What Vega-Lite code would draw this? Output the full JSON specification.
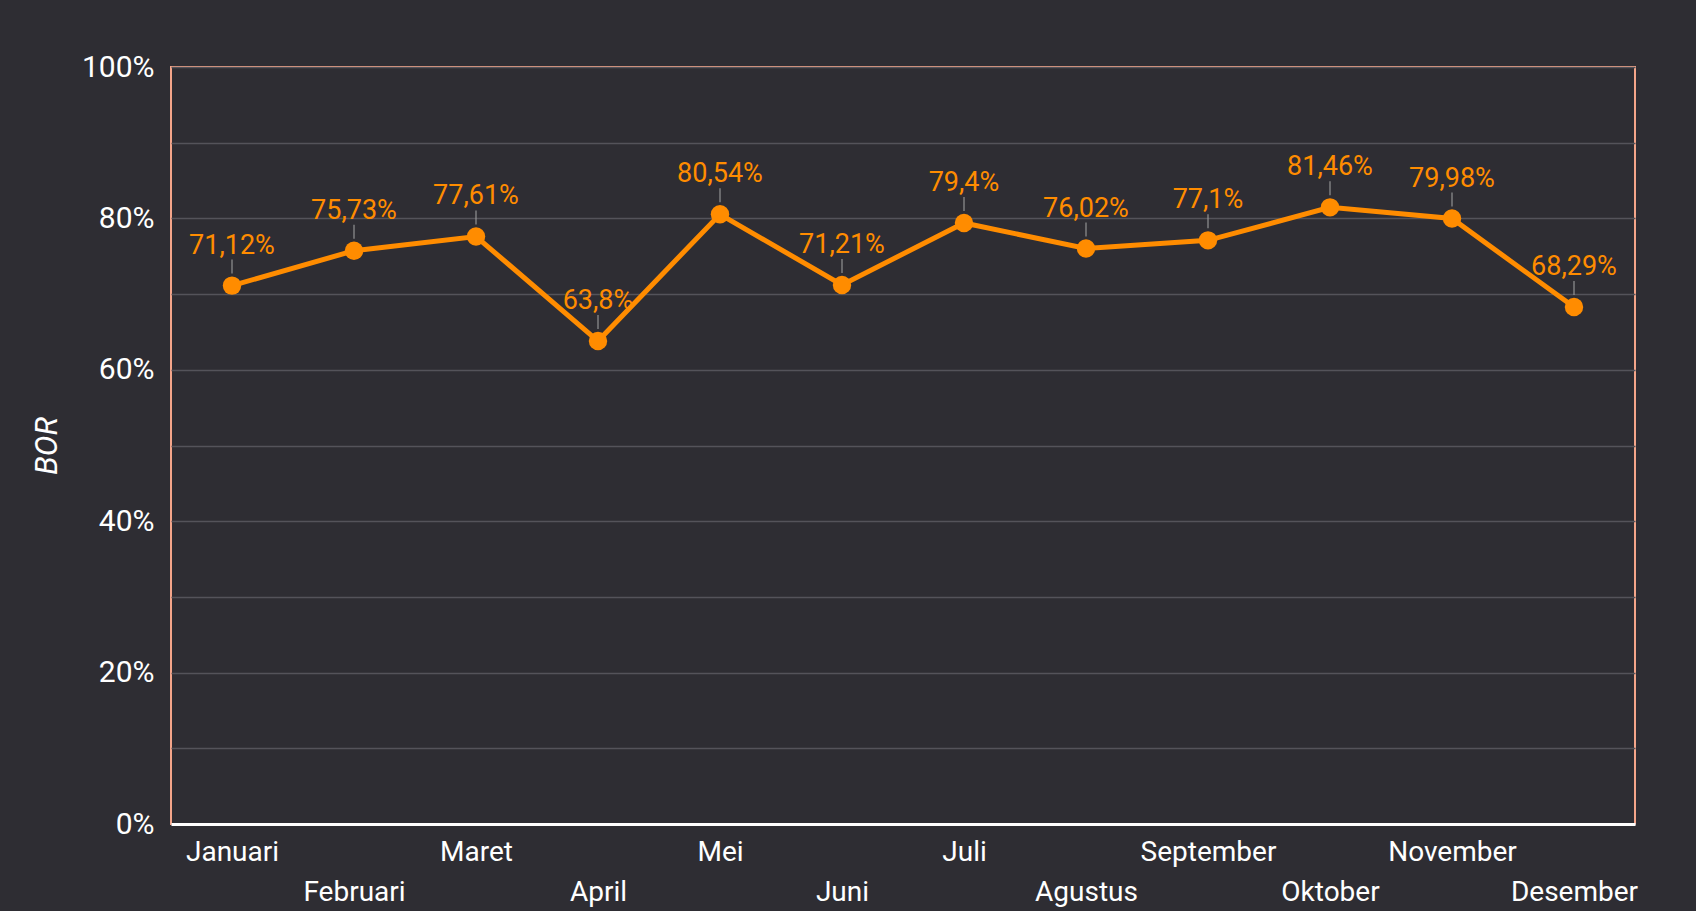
{
  "$schema": "https://vega.github.io/schema/vega-lite/v6.json",
  "width": 1464,
  "height": 757,
  "autosize": {"type": "none"},
  "padding": {"left": 171, "top": 67, "right": 61, "bottom": 87},
  "background": "#2e2d33",
  "config": {
    "view": {"stroke": "#f4a58a", "strokeWidth": 2},
    "font": "Roboto"
  },
  "data": {
    "values": [
      {"bulan": "Januari", "bor": 71.12},
      {"bulan": "Februari", "bor": 75.73},
      {"bulan": "Maret", "bor": 77.61},
      {"bulan": "April", "bor": 63.8},
      {"bulan": "Mei", "bor": 80.54},
      {"bulan": "Juni", "bor": 71.21},
      {"bulan": "Juli", "bor": 79.4},
      {"bulan": "Agustus", "bor": 76.02},
      {"bulan": "September", "bor": 77.1},
      {"bulan": "Oktober", "bor": 81.46},
      {"bulan": "November", "bor": 79.98},
      {"bulan": "Desember", "bor": 68.29}
    ]
  },
  "transform": [
    {"calculate": "replace(format(datum.bor, '.2~f'), '.', ',') + '%'", "as": "label"}
  ],
  "encoding": {
    "x": {
      "field": "bulan",
      "type": "ordinal",
      "sort": null,
      "scale": {"type": "point", "padding": 0.5},
      "axis": {
        "title": null,
        "labelAngle": 0,
        "labelFont": "Roboto",
        "labelFontSize": 28,
        "labelColor": "#ffffff",
        "labelPadding": 14,
        "labelLineHeight": 40,
        "labelBaseline": "top",
        "labelExpr": "indexof(['Februari','April','Juni','Agustus','Oktober','Desember'], datum.value) >= 0 ? ['', datum.label] : datum.label",
        "ticks": false,
        "grid": false,
        "domainColor": "#ffffff",
        "domainWidth": 3,
        "labelOverlap": false
      }
    },
    "y": {
      "field": "bor",
      "type": "quantitative",
      "scale": {"domain": [0, 100]},
      "axis": {
        "title": "BOR",
        "titleFont": "Roboto",
        "titleFontSize": 31,
        "titleFontStyle": "italic",
        "titleFontWeight": "normal",
        "titleColor": "#ffffff",
        "titlePadding": 18,
        "values": [0, 10, 20, 30, 40, 50, 60, 70, 80, 90, 100],
        "labelExpr": "datum.value % 20 == 0 ? datum.value + '%' : ''",
        "labelFontSize": 30,
        "labelColor": "#ffffff",
        "labelPadding": 17,
        "ticks": false,
        "domain": false,
        "gridColor": "#54535a",
        "gridWidth": 1.5
      }
    }
  },
  "layer": [
    {"mark": {"type": "line", "color": "#ff8c00", "strokeWidth": 5}},
    {"mark": {"type": "tick", "orient": "vertical", "size": 14, "thickness": 1.5, "yOffset": -19, "color": "#a0a0a0"}},
    {"mark": {"type": "circle", "size": 340, "color": "#ff8c00", "opacity": 1}},
    {
      "mark": {"type": "text", "color": "#ff8c00", "fontSize": 27, "baseline": "alphabetic", "dy": -32},
      "encoding": {"text": {"field": "label"}}
    }
  ]
}
